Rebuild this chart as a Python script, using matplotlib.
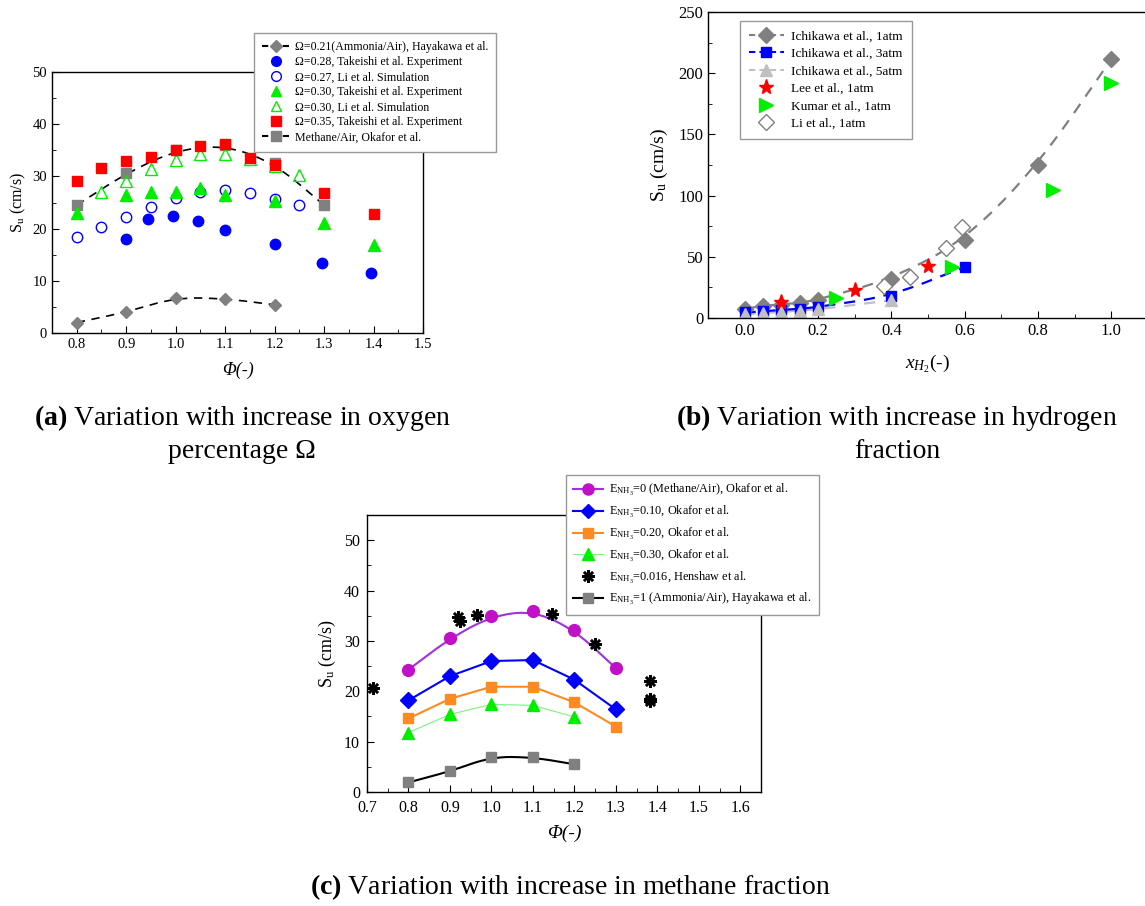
import numpy as np
import matplotlib
matplotlib.use('Agg')
import matplotlib.pyplot as plt
from matplotlib.lines import Line2D

plt.rcParams['font.family'] = ['Liberation Serif', 'DejaVu Serif']
plt.rcParams['mathtext.fontset'] = 'custom'
plt.rcParams['mathtext.rm'] = 'Liberation Serif'
plt.rcParams['mathtext.it'] = 'Liberation Serif:italic'
plt.rcParams['mathtext.bf'] = 'Liberation Serif:bold'
plt.rcParams['axes.linewidth'] = 1.0

# ---- panel (a): oxygen percentage ----
phi_amm = [0.8, 0.9, 1.0, 1.1, 1.2]
su_amm = [2.0, 4.0, 6.8, 6.6, 5.4]
phi_t28 = [0.9, 0.945, 0.995, 1.045, 1.1, 1.2, 1.295, 1.395]
su_t28 = [18.1, 21.9, 22.4, 21.4, 19.7, 17.1, 13.4, 11.4]
phi_l27 = [0.8, 0.85, 0.9, 0.95, 1.0, 1.05, 1.1, 1.15, 1.2, 1.25]
su_l27 = [18.3, 20.3, 22.2, 24.1, 25.9, 27.0, 27.4, 26.8, 25.7, 24.5]
phi_t30 = [0.8, 0.9, 0.95, 1.0, 1.05, 1.1, 1.2, 1.3, 1.4]
su_t30 = [23.0, 26.5, 27.0, 27.1, 27.8, 26.4, 25.3, 21.0, 16.9]
phi_l30 = [0.85, 0.9, 0.95, 1.0, 1.05, 1.1, 1.15, 1.2, 1.25]
su_l30 = [27.0, 29.2, 31.4, 33.2, 34.2, 34.2, 33.3, 31.9, 30.2]
phi_t35 = [0.8, 0.85, 0.9, 0.95, 1.0, 1.05, 1.1, 1.15, 1.2, 1.3, 1.4]
su_t35 = [29.1, 31.7, 32.9, 33.8, 35.0, 35.9, 36.2, 33.6, 32.2, 26.8, 22.8]
phi_meth = [0.8, 0.9, 1.0, 1.1, 1.2, 1.3]
su_meth = [24.5, 30.6, 35.0, 36.0, 32.5, 24.5]

# ---- panel (b): hydrogen fraction ----
xh_1 = [0.0, 0.05, 0.1, 0.15, 0.2, 0.4, 0.6, 0.8, 1.0]
su_1 = [7.5, 10.0, 11.0, 12.5, 15.0, 31.8, 63.5, 125.0, 211.5]
xh_3 = [0.0, 0.05, 0.1, 0.15, 0.2, 0.4, 0.6]
su_3 = [4.5, 5.5, 6.5, 7.5, 9.0, 18.0, 41.8]
xh_5 = [0.0, 0.05, 0.1, 0.15, 0.2, 0.4]
su_5 = [3.0, 4.0, 5.0, 6.0, 7.0, 14.5]
xh_lee = [0.1, 0.3, 0.5]
su_lee = [12.8, 23.0, 42.6]
xh_kumar = [0.25, 0.565, 0.84, 1.0]
su_kumar = [16.5, 42.0, 104.6, 192.0]
xh_li = [0.38, 0.45, 0.548, 0.593]
su_li = [26.5, 33.8, 57.0, 74.0]

# ---- panel (c): methane fraction ----
phi_c = [0.8, 0.9, 1.0, 1.1, 1.2, 1.3]
su_e0 = [24.3, 30.5, 34.9, 36.0, 32.2, 24.6]
su_e10 = [18.2, 23.0, 26.0, 26.2, 22.3, 16.4]
su_e20 = [14.6, 18.5, 20.9, 20.9, 17.8, 13.0]
phi_e30 = [0.8, 0.9, 1.0, 1.1, 1.2]
su_e30 = [11.8, 15.4, 17.4, 17.2, 14.9]
phi_e1 = [0.8, 0.9, 1.0, 1.1, 1.2]
su_e1 = [1.9, 4.1, 7.0, 6.9, 5.5]
phi_hen = [0.714, 0.92, 0.925, 0.965, 1.145, 1.25, 1.383, 1.383, 1.383]
su_hen = [20.6, 34.8, 34.0, 35.1, 35.4, 29.3, 22.0, 18.4, 18.1]


def smooth(x, y, n=5):
    # quadratic B-spline through the data (Chaikin corner cutting)
    pts = np.column_stack([x, y]).astype(float)
    for _ in range(n):
        q = 0.75 * pts[:-1] + 0.25 * pts[1:]
        r = 0.25 * pts[:-1] + 0.75 * pts[1:]
        mid = np.empty((2 * len(q), 2))
        mid[0::2] = q
        mid[1::2] = r
        pts = np.vstack([pts[0], mid, pts[-1]])
    return pts[:, 0], pts[:, 1]


def style_ax(ax, size):
    ax.tick_params(which='both', direction='in', top=False, right=False, labelsize=size)
    ax.tick_params(which='major', length=5)
    ax.tick_params(which='minor', length=3)


fig = plt.figure(figsize=(11.45, 9.06), dpi=100)
W, H = 1145.0, 906.0

gray = '#808080'
lgray = '#c0c0c0'
blue = '#0000ff'
green = '#00ee00'
red = '#ff0000'
phi_lab = '\u03a6(-)'

# ================= (a) =================
ax1 = fig.add_axes([52 / W, 1 - 333 / H, 371 / W, 261 / H])
xs, ys = smooth(phi_amm, su_amm)
ax1.plot(xs, ys, '--', color='k', lw=1.2, dashes=(5, 4))
xs, ys = smooth(phi_meth, su_meth)
ax1.plot(xs, ys, '--', color='k', lw=1.2, dashes=(5, 4))
ax1.plot(phi_amm, su_amm, 'D', color=gray, ms=6.5, ls='none')
ax1.plot(phi_meth, su_meth, 's', color=gray, ms=7, ls='none')
ax1.plot(phi_l27, su_l27, 'o', mfc='none', mec=blue, ms=7.5, ls='none')
ax1.plot(phi_l30, su_l30, '^', mfc='none', mec=green, ms=8, ls='none')
ax1.plot(phi_t28, su_t28, 'o', color=blue, ms=7.5, ls='none')
ax1.plot(phi_t30, su_t30, '^', color=green, ms=8, ls='none')
ax1.plot(phi_t35, su_t35, 's', color=red, ms=7, ls='none')
ax1.set_xlim(0.75, 1.5)
ax1.set_ylim(0, 50)
ax1.set_xticks(np.arange(0.8, 1.51, 0.1))
ax1.set_xticks(np.arange(0.75, 1.51, 0.05), minor=True)
ax1.set_yticks(np.arange(0, 51, 10))
ax1.set_yticks(np.arange(0, 51, 5), minor=True)
style_ax(ax1, 10.5)
ax1.set_xlabel(phi_lab, fontsize=13, labelpad=8, style='italic')
ax1.set_ylabel(r'S$_\mathrm{u}$ (cm/s)', fontsize=11.5, labelpad=3)

h1 = [
    Line2D([], [], color='k', ls='--', dashes=(3, 2), marker='D', mfc=gray, mec=gray, ms=6),
    Line2D([], [], color=blue, marker='o', ls='none', ms=7),
    Line2D([], [], mec=blue, mfc='none', marker='o', ls='none', ms=7),
    Line2D([], [], color=green, marker='^', ls='none', ms=7.5),
    Line2D([], [], mec=green, mfc='none', marker='^', ls='none', ms=7.5),
    Line2D([], [], color=red, marker='s', ls='none', ms=6.5),
    Line2D([], [], color='k', ls='--', dashes=(3, 2), marker='s', mfc=gray, mec=gray, ms=6.5),
]
l1 = [
    '\u03a9=0.21(Ammonia/Air), Hayakawa et al.',
    '\u03a9=0.28, Takeishi et al. Experiment',
    '\u03a9=0.27, Li et al. Simulation',
    '\u03a9=0.30, Takeishi et al. Experiment',
    '\u03a9=0.30, Li et al. Simulation',
    '\u03a9=0.35, Takeishi et al. Experiment',
    'Methane/Air, Okafor et al.',
]
leg = ax1.legend(h1, l1, loc='upper left', bbox_to_anchor=(254 / W, 1 - 33 / H),
                 bbox_transform=fig.transFigure, fontsize=8.6, fancybox=False,
                 edgecolor='#999999', framealpha=1, borderaxespad=0,
                 handlelength=2.2, handletextpad=0.5, labelspacing=0.25,
                 borderpad=0.7)
leg.get_frame().set_linewidth(1.0)

# ================= (b) =================
ax2 = fig.add_axes([708 / W, 1 - 318 / H, 440 / W, 306 / H])
xs, ys = smooth(xh_1, su_1)
ax2.plot(xs, ys, color=gray, lw=1.6, dashes=(5, 4))
xs, ys = smooth(xh_5, su_5)
ax2.plot(xs, ys, color=lgray, lw=1.6, dashes=(5, 4))
xs, ys = smooth(xh_3, su_3)
ax2.plot(xs, ys, color=blue, lw=1.6, dashes=(5, 4))
ax2.plot(xh_1, su_1, 'D', color=gray, ms=8, ls='none')
ax2.plot(xh_li, su_li, 'D', mfc='white', mec=gray, ms=8, ls='none')
ax2.plot(xh_3, su_3, 's', color=blue, ms=7.5, ls='none')
ax2.plot(xh_5, su_5, '^', color=lgray, ms=8.5, ls='none')
ax2.plot(xh_lee, su_lee, '*', color=red, ms=11, ls='none')
ax2.plot(xh_kumar, su_kumar, '>', color=green, ms=9.5, ls='none')
ax2.set_xlim(-0.1, 1.1)
ax2.set_ylim(0, 250)
ax2.set_xticks(np.arange(0, 1.01, 0.2))
ax2.set_xticks(np.arange(-0.1, 1.11, 0.1), minor=True)
ax2.set_yticks(np.arange(0, 251, 50))
ax2.set_yticks(np.arange(0, 251, 25), minor=True)
style_ax(ax2, 12)
ax2.set_xlabel(r'$x_{H_2}$(-)', fontsize=14, labelpad=10)
ax2.set_ylabel(r'S$_\mathrm{u}$ (cm/s)', fontsize=14, labelpad=6)

h2 = [
    Line2D([], [], color=gray, dashes=(3, 2), marker='D', ms=8),
    Line2D([], [], color=blue, dashes=(3, 2), marker='s', ms=7.5),
    Line2D([], [], color=lgray, dashes=(3, 2), marker='^', ms=8.5),
    Line2D([], [], color=red, marker='*', ls='none', ms=11),
    Line2D([], [], color=green, marker='>', ls='none', ms=9.5),
    Line2D([], [], mec=gray, mfc='white', marker='D', ls='none', ms=8),
]
l2 = ['Ichikawa et al., 1atm', 'Ichikawa et al., 3atm', 'Ichikawa et al., 5atm',
      'Lee et al., 1atm', 'Kumar et al., 1atm', 'Li et al., 1atm']
leg = ax2.legend(h2, l2, loc='upper left', bbox_to_anchor=(740 / W, 1 - 21 / H),
                 bbox_transform=fig.transFigure, fontsize=9.5, fancybox=False,
                 edgecolor='#999999', framealpha=1, borderaxespad=0,
                 handlelength=2.6, handletextpad=0.6, labelspacing=0.4,
                 borderpad=0.7)
leg.get_frame().set_linewidth(1.0)

# ================= (c) =================
ax3 = fig.add_axes([367 / W, 1 - 792 / H, 394 / W, 277 / H])
purple_l = '#a030e0'
purple_m = '#c010c8'
orange = '#ff8a1f'
xs, ys = smooth(phi_c, su_e0)
ax3.plot(xs, ys, color=purple_l, lw=1.5)
ax3.plot(phi_c, su_e0, 'o', color=purple_m, ms=8.5, ls='none')
ax3.plot(phi_c, su_e10, '-D', color=blue, ms=8, lw=1.5)
ax3.plot(phi_c, su_e20, '-s', color=orange, ms=7.5, lw=1.5)
ax3.plot(phi_e30, su_e30, '-', color='#80f080', lw=0.8)
ax3.plot(phi_e30, su_e30, '^', color=green, ms=8.5, ls='none')
xs, ys = smooth(phi_e1, su_e1)
ax3.plot(xs, ys, color='k', lw=1.5)
ax3.plot(phi_e1, su_e1, 's', color=gray, ms=7.5, ls='none')
ax3.plot(phi_hen, su_hen, marker=(8, 2, 0), color='k', ms=9, mew=1.8, ls='none')
ax3.set_xlim(0.7, 1.65)
ax3.set_ylim(0, 55)
ax3.set_xticks(np.arange(0.7, 1.61, 0.1))
ax3.set_xticks(np.arange(0.7, 1.66, 0.05), minor=True)
ax3.set_yticks(np.arange(0, 51, 10))
ax3.set_yticks(np.arange(0, 56, 5), minor=True)
style_ax(ax3, 11.5)
ax3.tick_params(axis='x', pad=6)
ax3.tick_params(axis='y', pad=5)
ax3.set_xlabel(phi_lab, fontsize=14, labelpad=6, style='italic')
ax3.set_ylabel(r'S$_\mathrm{u}$ (cm/s)', fontsize=13, labelpad=4)

h3 = [
    Line2D([], [], color=purple_l, marker='o', mfc=purple_m, mec=purple_m, ms=8),
    Line2D([], [], color=blue, marker='D', ms=7),
    Line2D([], [], color=orange, marker='s', ms=7),
    Line2D([], [], color='#80f080', lw=0.8, marker='^', mfc=green, mec=green, ms=8),
    Line2D([], [], color='k', marker=(8, 2, 0), ls='none', ms=9, mew=1.8),
    Line2D([], [], color='k', marker='s', mfc=gray, mec=gray, ms=7),
]
l3 = [
    r'E$_{\mathrm{NH_3}}$=0 (Methane/Air), Okafor et al.',
    r'E$_{\mathrm{NH_3}}$=0.10, Okafor et al.',
    r'E$_{\mathrm{NH_3}}$=0.20, Okafor et al.',
    r'E$_{\mathrm{NH_3}}$=0.30, Okafor et al.',
    r'E$_{\mathrm{NH_3}}$=0.016, Henshaw et al.',
    r'E$_{\mathrm{NH_3}}$=1 (Ammonia/Air), Hayakawa et al.',
]
leg = ax3.legend(h3, l3, loc='upper left', bbox_to_anchor=(566 / W, 1 - 475 / H),
                 bbox_transform=fig.transFigure, fontsize=8.8, fancybox=False,
                 edgecolor='#999999', framealpha=1, borderaxespad=0,
                 handlelength=2.4, handletextpad=0.5, labelspacing=0.47,
                 borderpad=0.6)
leg.get_frame().set_linewidth(1.0)

# ---- captions ----
cap = 20
fig.text(242 / W, 1 - 418 / H, r'$\mathbf{(a)}$ Variation with increase in oxygen',
         ha='center', va='center', fontsize=cap)
fig.text(242 / W, 1 - 452 / H, 'percentage \u03a9', ha='center', va='center', fontsize=cap)
fig.text(897 / W, 1 - 418 / H, r'$\mathbf{(b)}$ Variation with increase in hydrogen',
         ha='center', va='center', fontsize=cap)
fig.text(897 / W, 1 - 452 / H, 'fraction', ha='center', va='center', fontsize=cap)
fig.text(570 / W, 1 - 887 / H, r'$\mathbf{(c)}$ Variation with increase in methane fraction',
         ha='center', va='center', fontsize=cap)

fig.savefig('out.png', dpi=100)
